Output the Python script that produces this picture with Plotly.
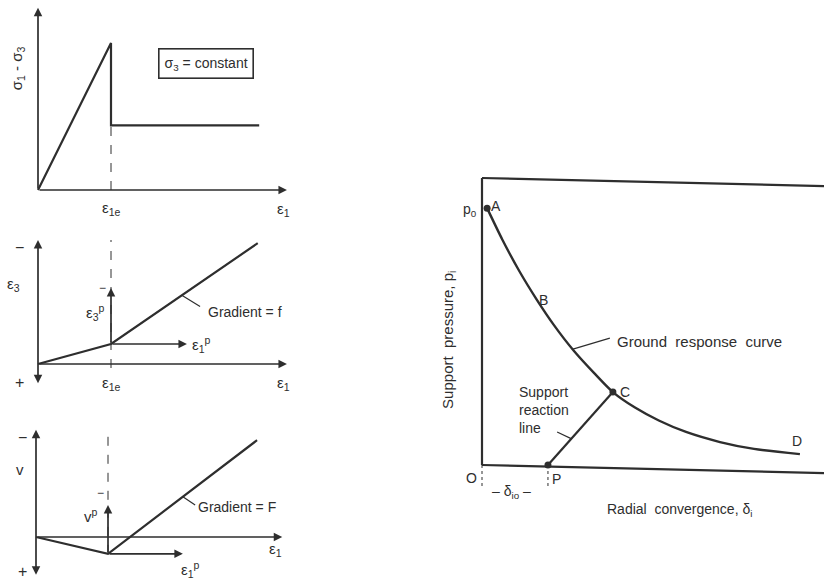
import plotly.graph_objects as go

W, H = 824, 580
INK = "#2e2e2e"
FONT = "Liberation Sans, Arial, sans-serif"
NB = "\u00a0"

# ---------------- data ----------------
# (a) deviator stress vs axial strain (sigma3 constant)
eps_1e = 1.0            # axial strain at peak
q_peak = 1.0            # peak deviator stress
q_resid = 0.44          # residual deviator stress
eps_end = 3.03          # last strain drawn

# (b) lateral strain vs axial strain
e3_at_peak = 0.25       # elastic lateral strain at eps_1e
grad_f = 0.627          # plastic gradient f
e3_end_x = 3.01

# (c) volumetric strain vs axial strain
v_at_peak = -0.21       # elastic volumetric strain at eps_1e
grad_F = 0.686          # plastic gradient F
v_end_x = 3.07

# ground response curve: radial convergence vs support pressure
grc_delta = [0.15, 0.60, 1.10, 1.60, 2.10, 2.70, 3.30, 3.85, 4.50, 5.20, 6.00, 7.00, 8.00, 9.35]
grc_p = [8.95, 7.85, 6.75, 5.78, 4.90, 3.98, 3.20, 2.54, 2.00, 1.55, 1.15, 0.80, 0.56, 0.38]
p0 = 8.95
delta_io = 1.94                  # convergence before support installed (P)
point_C = (3.85, 2.54)           # equilibrium point
box_top = [10.0, 9.72]           # frame top edge, left/right
box_bottom = [0.0, -0.28]        # frame bottom edge, left/right
x_frame_end = 10.06

fig = go.Figure()


def px_axes(n, ox, oy, sx, sy, x0, x1, y0, y1):
    """Axis pair n placed over a pixel box, origin (ox, oy), sx/sy px per unit."""
    sfx = "" if n == 1 else str(n)
    fig.layout["xaxis" + sfx] = dict(
        domain=[x0 / W, x1 / W], range=[(x0 - ox) / sx, (x1 - ox) / sx],
        visible=False, anchor="y" + sfx, fixedrange=True)
    fig.layout["yaxis" + sfx] = dict(
        domain=[1 - y1 / H, 1 - y0 / H], range=[(oy - y1) / sy, (oy - y0) / sy],
        visible=False, anchor="x" + sfx, fixedrange=True)
    return "x" + sfx, "y" + sfx


def line(ax, xs, ys, dash="solid", width=2.2, shape="linear", color=INK):
    fig.add_trace(go.Scatter(x=xs, y=ys, mode="lines", xaxis=ax[0], yaxis=ax[1],
                             line=dict(color=color, width=width, dash=dash, shape=shape,
                                       smoothing=0.8),
                             hoverinfo="skip", showlegend=False))


def arrow(ax, x0, y0, x1, y1, both=False, width=1.7):
    fig.add_annotation(x=x1, y=y1, ax=x0, ay=y0, xref=ax[0], yref=ax[1],
                       axref=ax[0], ayref=ax[1], text="", showarrow=True,
                       arrowhead=2, startarrowhead=2, arrowsize=1.0, startarrowsize=1.0,
                       arrowside="end+start" if both else "end",
                       arrowwidth=width, arrowcolor=INK)


def label(ax, x, y, text, size=14, angle=0, xanchor="center", **kw):
    fig.add_annotation(x=x, y=y, xref=ax[0], yref=ax[1], text=text, showarrow=False,
                       textangle=angle, xanchor=xanchor, yanchor="middle",
                       font=dict(family=FONT, size=size, color=INK), **kw)


# ---------------- panel (a) ----------------
a = px_axes(1, 38, 190, 73, 147, 0, 300, 0, 222)
arrow(a, 0, 0, 0, 1.24)
arrow(a, 0, 0, 3.41, 0)
line(a, [eps_1e, eps_1e], [0, q_resid], dash="dash", width=1.0)
line(a, [0, eps_1e, eps_1e, eps_end], [0, q_peak, q_resid, q_resid])
label(a, -0.27, 0.83, "σ<sub>1</sub> - σ<sub>3</sub>", size=15, angle=-90)
label(a, 1.0, -0.125, "ε<sub>1e</sub>", size=15)
label(a, 3.36, -0.135, "ε<sub>1</sub>", size=15)
fig.add_annotation(x=2.30, y=0.86, xref=a[0], yref=a[1],
                   text="σ<sub>3</sub> = constant", showarrow=False,
                   font=dict(family=FONT, size=14, color=INK),
                   bordercolor=INK, borderwidth=1.6, borderpad=5, bgcolor="white")

# ---------------- panel (b) ----------------
b = px_axes(2, 38, 364, 73, 80, 0, 300, 222, 398)
arrow(b, 0, -0.26, 0, 1.55, both=True)
arrow(b, 0, 0, 3.41, 0)
line(b, [eps_1e, eps_1e], [-0.05, 1.55], dash="dash", width=1.0)
e3_end_y = e3_at_peak + grad_f * (e3_end_x - eps_1e)
line(b, [0, eps_1e, e3_end_x], [0, e3_at_peak, e3_end_y])
arrow(b, eps_1e, e3_at_peak, 2.04, e3_at_peak)
arrow(b, eps_1e, e3_at_peak, eps_1e, 0.95)
lx = 1.97
line(b, [lx, lx + 0.25], [e3_at_peak + grad_f * (lx - eps_1e), 0.72], width=1.2)
label(b, -0.25, 1.46, "−", size=16)
label(b, -0.34, 0.99, "ε<sub>3</sub>", size=15)
label(b, -0.25, -0.23, "+", size=16)
label(b, 0.79, 0.64, "ε<sub>3</sub><sup>p</sup>", size=15)
label(b, 0.88, 0.95, "−", size=12)
label(b, 2.08, 0.24, "ε<sub>1</sub><sup>p</sup>", size=15, xanchor="left")
label(b, 2.30, 0.65, "Gradient = f", size=14, xanchor="left")
label(b, 1.0, -0.24, "ε<sub>1e</sub>", size=15)
label(b, 3.36, -0.24, "ε<sub>1</sub>", size=15)

# ---------------- panel (c) ----------------
c = px_axes(3, 36, 537, 72, 80, 0, 300, 405, 580)
arrow(c, 0, -0.49, 0, 1.34, both=True)
arrow(c, 0, 0, 3.42, 0)
line(c, [eps_1e, eps_1e], [v_at_peak, 1.34], dash="dash", width=1.0)
v_end_y = v_at_peak + grad_F * (v_end_x - eps_1e)
line(c, [0, eps_1e, v_end_x], [0, v_at_peak, v_end_y])
arrow(c, eps_1e, v_at_peak, 2.04, v_at_peak)
arrow(c, eps_1e, v_at_peak, eps_1e, 0.40)
lx = 2.04
line(c, [lx, lx + 0.17], [v_at_peak + grad_F * (lx - eps_1e), 0.40], width=1.2)
label(c, -0.19, 1.24, "−", size=16)
label(c, -0.22, 0.84, "v", size=15)
label(c, -0.19, -0.43, "+", size=16)
label(c, 0.76, 0.27, "v<sup>p</sup>", size=15)
label(c, 0.89, 0.55, "−", size=12)
label(c, 3.33, -0.15, "ε<sub>1</sub>", size=15)
label(c, 1.98, -0.40, "ε<sub>1</sub><sup>p</sup>", size=15, xanchor="left")
label(c, 2.22, 0.37, "Gradient = F", size=14, xanchor="left")

# ---------------- ground response curve ----------------
g = px_axes(4, 482, 465, 34, 28.7, 425, 824, 165, 525)
line(g, [0, 0], [box_bottom[0], box_top[0]])
line(g, [0, x_frame_end], box_top)
line(g, [0, x_frame_end], box_bottom)
line(g, [0, 0], [0, -0.77], dash="dot", width=1.0)
line(g, [delta_io, delta_io], [0, -0.77], dash="dot", width=1.0)
line(g, grc_delta, grc_p, shape="spline", width=2.4)
line(g, [delta_io, point_C[0]], [0, point_C[1]])
fig.add_trace(go.Scatter(x=[grc_delta[0], point_C[0], delta_io], y=[p0, point_C[1], 0],
                         mode="markers", xaxis=g[0], yaxis=g[1],
                         marker=dict(color=INK, size=7), hoverinfo="skip", showlegend=False))
line(g, [2.65, 3.76], [4.03, 4.42], width=1.2)
line(g, [2.21, 2.62], [1.15, 0.92], width=1.2)
label(g, -0.35, 8.88, "p<sub>0</sub>", size=14)
label(g, 0.42, 9.02, "A", size=14)
label(g, 1.80, 5.75, "B", size=14)
label(g, 4.20, 2.54, "C", size=14)
label(g, 9.26, 0.84, "D", size=14)
label(g, -0.32, -0.45, "O", size=14)
label(g, 2.20, -0.49, "P", size=14)
label(g, 0.88, -0.94, "–" + NB + "δ<sub>io</sub>" + NB + "–", size=14)
label(g, 3.90, 4.29, "Ground" + NB * 2 + "response" + NB * 2 + "curve", size=15, xanchor="left")
label(g, 1.02, 1.92, "Support<br>reaction<br>line", size=14, xanchor="left", align="left")
label(g, -0.97, 4.36, "Support" + NB * 2 + "pressure," + NB + "p<sub>i</sub>", size=15, angle=-90)
label(g, 5.82, -1.57, "Radial" + NB * 2 + "convergence," + NB + "δ<sub>i</sub>", size=14)

fig.update_layout(width=W, height=H, autosize=False,
                  margin=dict(l=0, r=0, t=0, b=0),
                  paper_bgcolor="white", plot_bgcolor="rgba(0,0,0,0)")

fig.write_html("out.html")
